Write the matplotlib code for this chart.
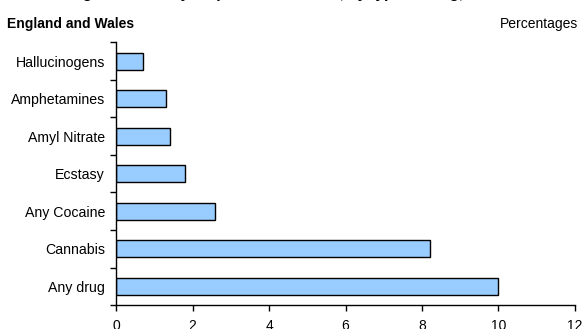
import matplotlib
matplotlib.use("Agg")
import matplotlib.pyplot as plt
import numpy as np

plt.rcParams['font.family'] = ['Liberation Sans', 'DejaVu Sans']

drugs = ["Any drug", "Cannabis", "Any Cocaine", "Ecstasy",
         "Amyl Nitrate", "Amphetamines", "Hallucinogens"]
percent = [10.0, 8.2, 2.6, 1.8, 1.4, 1.3, 0.7]
xticks = [0, 2, 4, 6, 8, 10, 12]

fig = plt.figure(figsize=(5.85, 3.29), dpi=100)
ax = fig.add_axes([0.1983, 0.0729, 0.7846, 0.798])

y = np.arange(len(drugs))
ax.barh(y, percent, height=0.45, color="#99CCFF", edgecolor="black", linewidth=1.0)

ax.set_xlim(0, 12)
ax.set_ylim(-0.5, len(drugs) - 0.5)
ax.set_xticks(xticks)
ax.set_xticklabels([str(t) for t in xticks], fontsize=10)
ax.set_yticks(y)
ax.set_yticklabels(drugs, fontsize=10.2)
ax.set_yticks(np.arange(-0.5, len(drugs)), minor=True)
ax.tick_params(axis="y", which="major", length=0, pad=8)
ax.tick_params(axis="y", which="minor", length=4, width=1, direction="out")
ax.tick_params(axis="x", length=4, width=1, direction="out", pad=6)

for side in ["top", "right"]:
    ax.spines[side].set_visible(False)
for side in ["left", "bottom"]:
    ax.spines[side].set_linewidth(1)

# titles (main title runs off the top edge)
fig.text(0.012, 1.007, "Use of drugs in the last year prior to interview, by type of drug, 2003/04",
         fontsize=11, fontweight="bold", va="baseline", ha="left")
fig.text(0.012, 0.927, "England and Wales", fontsize=10, fontweight="bold", va="center", ha="left")
fig.text(0.988, 0.927, "Percentages", fontsize=10, va="center", ha="right")

fig.savefig("out.png", dpi=100)
